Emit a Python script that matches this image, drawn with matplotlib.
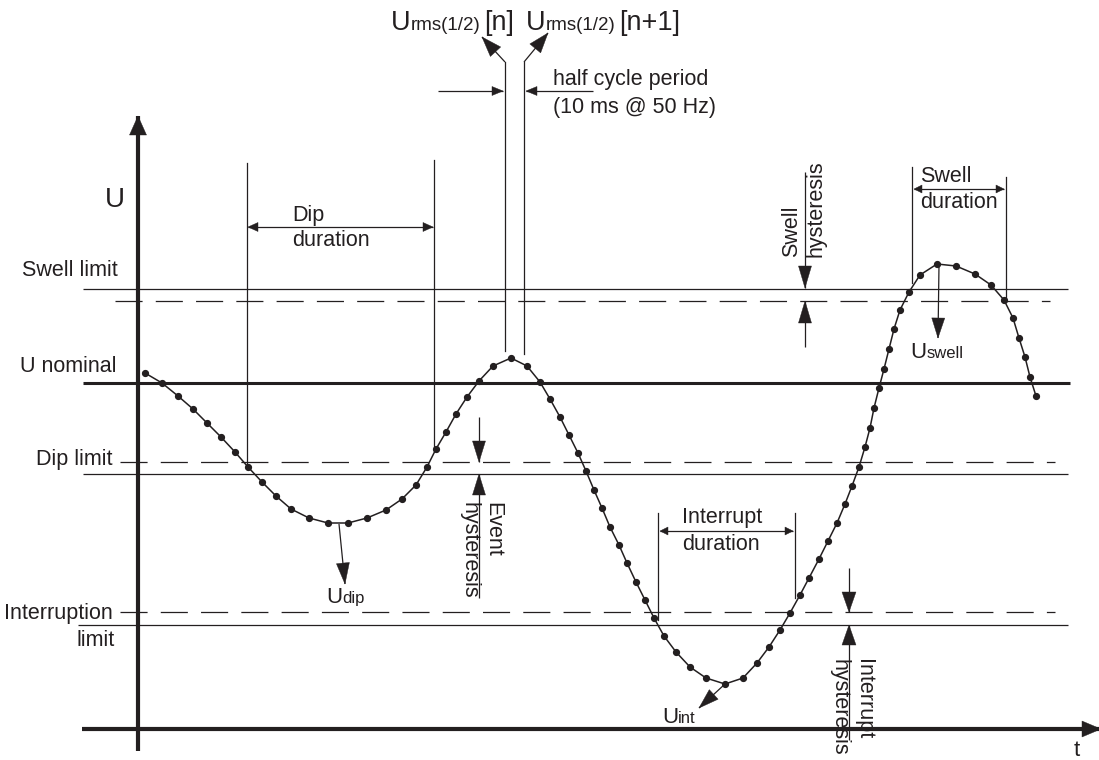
import numpy as np
import matplotlib
matplotlib.use("Agg")
import matplotlib.pyplot as plt
from matplotlib.patches import Polygon

plt.rcParams['font.family'] = ['Liberation Sans', 'DejaVu Sans']
plt.rcParams['lines.scale_dashes'] = False

ink = '#231f20'

# rms(1/2) samples (x = time, y = drawing units, top down)
t_pts = [145, 162, 178, 193, 207, 221, 235, 248, 262, 276, 291, 309, 328, 348, 367,
         386, 402, 416, 427, 436, 446, 456, 467, 479, 493, 511, 527, 540, 550, 560,
         569, 578, 586, 594, 602, 610, 619, 627, 636, 645, 654, 664, 676, 690, 706,
         725, 743, 757, 769, 780, 790, 800, 809, 819, 828, 837, 845, 852, 859, 865,
         870, 874, 879, 884, 889, 894, 900, 909, 920, 937, 956, 975, 991, 1004, 1013,
         1019, 1025, 1030, 1036]
u_pts = [373, 383, 396, 409, 423, 437, 452, 467, 482, 496, 509, 518, 523, 523, 518,
         510, 499, 485, 467, 449, 432, 414, 397, 381, 366, 358, 366, 382, 399, 417,
         435, 453, 471, 490, 508, 527, 545, 563, 582, 600, 618, 636, 652, 667, 678,
         684, 678, 663, 647, 630, 613, 595, 578, 559, 541, 523, 504, 486, 467, 447,
         428, 408, 388, 369, 349, 329, 310, 292, 275, 264, 266, 274, 285, 300, 318,
         338, 357, 377, 396]

# threshold levels
swell_limit = 289
swell_hyst = 301
u_nominal = 383
dip_hyst = 462
dip_limit = 474
int_hyst = 612
int_limit = 625

fig = plt.figure(figsize=(10.99, 7.6), dpi=100)
ax = fig.add_axes([0, 0, 1, 1])
ax.set_xlim(0, 1099)
ax.set_ylim(760, 0)
ax.axis('off')


def head(xt, yt, xf, yf, hl, hw):
    d = np.array([xt - xf, yt - yf], dtype=float)
    d /= np.hypot(*d)
    p = np.array([-d[1], d[0]])
    base = np.array([xt, yt]) - d * hl
    tri = [(xt, yt), tuple(base + p * hw / 2), tuple(base - p * hw / 2)]
    ax.add_patch(Polygon(tri, closed=True, facecolor=ink, edgecolor=ink, lw=0.3, zorder=5))


def arrow(x0, y0, x1, y1, hl=12, hw=9, lw=0.9, both=False):
    ax.plot([x0, x1], [y0, y1], color=ink, lw=lw, solid_capstyle='butt', zorder=4)
    head(x1, y1, x0, y0, hl, hw)
    if both:
        head(x0, y0, x1, y1, hl, hw)


def vline(x, y0, y1, lw=0.9):
    ax.plot([x, x], [y0, y1], color=ink, lw=lw, zorder=3)


def hline(y, x0, x1, lw=0.9, dashed=False):
    ln, = ax.plot([x0, x1], [y, y], color=ink, lw=lw, zorder=2, solid_capstyle='butt')
    if dashed:
        ln.set_dashes((19.5, 9.5))


def sub_label(x, y, main, sub, fs_main, fs_sub):
    t = ax.text(x, y, main, fontsize=fs_main, color=ink, ha='left', va='baseline')
    s = ax.annotate(sub, xy=(1, y), xycoords=(t, 'data'), fontsize=fs_sub, color=ink,
                    ha='left', va='baseline')
    return s


# axes
arrow(138, 751, 138, 116, hl=19, hw=17, lw=3.0)
arrow(82, 729, 1101, 729, hl=19, hw=16, lw=3.0)

# levels
hline(swell_limit, 83, 1068)
hline(swell_hyst, 115, 1050, dashed=True)
hline(u_nominal, 83, 1070, lw=2.2)
hline(dip_hyst, 120, 1055, dashed=True)
hline(dip_limit, 83, 1068)
hline(int_hyst, 120, 1055, dashed=True)
hline(int_limit, 78, 1068)

# curve with samples
ax.plot(t_pts, u_pts, color=ink, lw=1.1, zorder=6)
ax.plot(t_pts, u_pts, 'o', color=ink, ms=4.2, zorder=7)

fs = 15.5
# level labels
ax.text(115, 200, 'U', fontsize=20, color=ink, ha='center', va='center')
ax.text(118, 270, 'Swell limit', fontsize=fs, color=ink, ha='right', va='center')
ax.text(116, 367, 'U nominal', fontsize=fs, color=ink, ha='right', va='center')
ax.text(113, 460, 'Dip limit', fontsize=fs, color=ink, ha='right', va='center')
ax.text(113, 613, 'Interruption', fontsize=fs, color=ink, ha='right', va='center')
ax.text(115, 640, 'limit', fontsize=fs, color=ink, ha='right', va='center')
ax.text(1077, 750, 't', fontsize=16, color=ink, ha='center', va='center')

# dip duration
vline(247, 163, 465)
vline(434, 160, 447)
arrow(248, 227, 433, 227, hl=10, hw=9, both=True)
ax.text(292, 215, 'Dip', fontsize=fs, color=ink, ha='left', va='center')
ax.text(292, 241, 'duration', fontsize=fs, color=ink, ha='left', va='center')

# half cycle Urms lines
vline(505, 62, 351)
vline(524, 62, 354)
arrow(505, 62, 482, 37, hl=20, hw=14)
arrow(524, 62, 548, 33, hl=20, hw=14)
arrow(438, 91, 503, 91, hl=11, hw=9)
arrow(593, 91, 526, 91, hl=11, hw=9)
ax.text(553, 80, 'half cycle period', fontsize=fs, color=ink, ha='left', va='center')
ax.text(553, 107, '(10 ms @ 50 Hz)', fontsize=fs, color=ink, ha='left', va='center')

s1 = sub_label(391, 30, 'U', 'rms(1/2)', 19.5, 13.5)
ax.annotate('[n]', xy=(1, 30), xycoords=(s1, 'data'), xytext=(2.5, 0),
            textcoords='offset points', fontsize=19.5, color=ink, ha='left', va='baseline')
s2 = sub_label(526, 30, 'U', 'rms(1/2)', 19.5, 13.5)
ax.annotate('[n+1]', xy=(1, 30), xycoords=(s2, 'data'), xytext=(2.5, 0),
            textcoords='offset points', fontsize=19.5, color=ink, ha='left', va='baseline')

# Udip
arrow(339, 524, 345, 584, hl=21, hw=13)
sub_label(326, 603, 'U', 'dip', 16, 12)

# event hysteresis
arrow(479, 417, 479, dip_hyst, hl=21, hw=13)
arrow(479, 598, 479, dip_limit, hl=21, hw=13)
ax.text(481, 502, 'Event\nhysteresis', fontsize=fs, color=ink, rotation=270,
        ha='center', va='top', multialignment='left')

# interrupt duration
vline(658, 513, 620)
vline(795, 513, 598)
arrow(660, 531, 793, 531, hl=8, hw=8, both=True)
ax.text(682, 517, 'Interrupt', fontsize=fs, color=ink, ha='left', va='center')
ax.text(682, 544, 'duration', fontsize=fs, color=ink, ha='left', va='center')

# Uint
arrow(725, 684, 699, 708, hl=20, hw=13)
sub_label(662, 723, 'U', 'int', 16, 12)

# interrupt hysteresis
arrow(849, 568, 849, int_hyst, hl=20, hw=14)
arrow(849, 740, 849, int_limit, hl=20, hw=14)
ax.text(851, 659, 'Interrupt\nhysteresis', fontsize=fs, color=ink, rotation=270,
        ha='center', va='top', multialignment='left')

# swell hysteresis
arrow(805, 172, 805, swell_limit - 1, hl=22, hw=13)
arrow(805, 347, 805, swell_hyst, hl=22, hw=13)
ax.text(804, 257, 'Swell\nhysteresis', fontsize=fs, color=ink, rotation=90,
        ha='center', va='bottom', multialignment='left')

# swell duration
vline(912, 167, 283)
vline(1006, 177, 302)
arrow(914, 189, 1004, 189, hl=8, hw=8, both=True)
ax.text(920, 176, 'Swell', fontsize=fs, color=ink, ha='left', va='center')
ax.text(920, 202, 'duration', fontsize=fs, color=ink, ha='left', va='center')

# Uswell
arrow(939, 265, 938, 338, hl=20, hw=13)
sub_label(910, 358, 'U', 'swell', 16, 12)

fig.savefig('out.png', dpi=100)
